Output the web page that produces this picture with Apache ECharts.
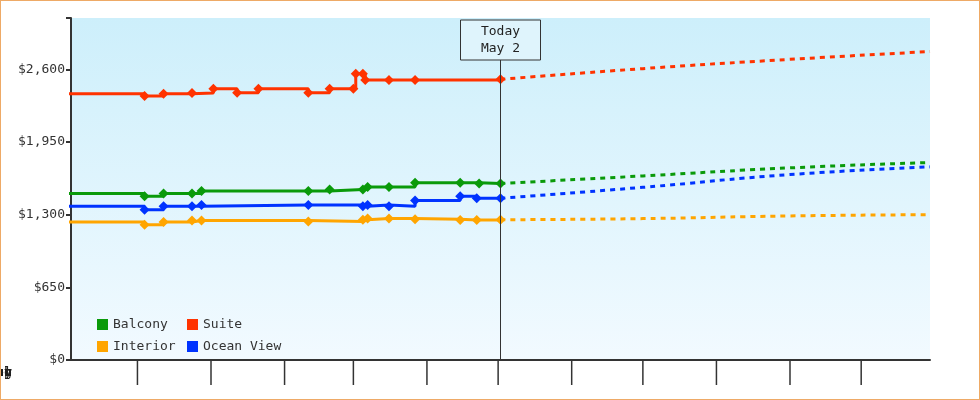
<!DOCTYPE html>
<html><head><meta charset="utf-8">
<script src="https://cdn.jsdelivr.net/npm/echarts@6/dist/echarts.min.js"></script>
<style>
html,body{margin:0;padding:0;background:#fff;}
#c{position:absolute;left:0;top:0;width:980px;height:400px;}
#b{position:absolute;left:0;top:0;width:978px;height:398px;border:1px solid #eeaa66;pointer-events:none;z-index:5;}
</style></head>
<body><div id="c"></div><div id="b"></div>
<script>
const months = ['Nov','Dec','Jan','Feb','Mar','Apr','May','Jun','Jul','Aug','Sep','Oct'];
const monthStarts = ['2023-11-01','2023-12-01','2024-01-01','2024-02-01','2024-03-01','2024-04-01','2024-05-01','2024-06-01','2024-07-01','2024-08-01','2024-09-01','2024-10-01','2024-11-01'];
const today = '2024-05-02';
const yTicks = [0, 650, 1300, 1950, 2600];

const suite = [['2023-11-02',2383],['2023-12-04',2362],['2023-12-12',2383],['2023-12-24',2390],['2024-01-02',2427],['2024-01-12',2392],['2024-01-21',2427],['2024-02-11',2392],['2024-02-20',2427],['2024-03-01',2427],['2024-03-02',2562],['2024-03-05',2562],['2024-03-06',2505],['2024-03-16',2505],['2024-03-27',2505],['2024-05-02',2511]];
const balcony = [['2023-11-02',1489],['2023-12-04',1465],['2023-12-12',1489],['2023-12-24',1489],['2023-12-28',1513],['2024-02-11',1513],['2024-02-20',1525],['2024-03-05',1525],['2024-03-07',1549],['2024-03-16',1549],['2024-03-27',1585],['2024-04-15',1585],['2024-04-23',1579],['2024-05-02',1579]];
const oceanView = [['2023-11-02',1375],['2023-12-04',1345],['2023-12-12',1375],['2023-12-24',1375],['2023-12-28',1387],['2024-02-11',1387],['2024-03-05',1375],['2024-03-07',1387],['2024-03-16',1375],['2024-03-27',1426],['2024-04-15',1465],['2024-04-22',1447],['2024-05-02',1447]];
const interior = [['2023-11-02',1234],['2023-12-04',1210],['2023-12-12',1234],['2023-12-24',1249],['2023-12-28',1249],['2024-02-11',1240],['2024-03-05',1255],['2024-03-07',1265],['2024-03-16',1265],['2024-03-27',1260],['2024-04-15',1253],['2024-04-22',1253],['2024-05-02',1255]];

const suiteProj = [['2024-05-02',2511],['2024-07-01',2607],['2024-09-01',2690],['2024-10-30',2760]];
const balconyProj = [['2024-05-02',1579],['2024-07-01',1647],['2024-09-01',1719],['2024-10-30',1767]];
const oceanProj = [['2024-05-02',1447],['2024-07-01',1545],['2024-09-01',1659],['2024-10-30',1728]];
const interiorProj = [['2024-05-02',1255],['2024-07-01',1265],['2024-09-01',1289],['2024-10-30',1300]];

const colors = {Balcony:'#0a9a0a', Suite:'#ff3300', Interior:'#ffa500', 'Ocean View':'#0033ff'};
const font = 'DejaVu Sans Mono';

function solid(name, data){
  return {name, type:'line', data, step:'end', symbol:'diamond', symbolSize:10, showSymbol:true,
    itemStyle:{color:colors[name]}, lineStyle:{color:colors[name], width:3}, z:3};
}
function dashed(name, data){
  return {name, type:'line', data, smooth:true, showSymbol:false,
    itemStyle:{color:colors[name]}, lineStyle:{color:colors[name], width:3, type:[5,5]}, z:2};
}

const chart = echarts.init(document.getElementById('c'));
chart.setOption({
  animation:false,
  textStyle:{fontFamily:font},
  grid:{left:71, right:50, top:18, bottom:40, show:true, borderWidth:0,
    backgroundColor:new echarts.graphic.LinearGradient(0,0,0,1,[{offset:0,color:'#cdeffb'},{offset:1,color:'#f2faff'}])},
  legend:[
    {data:['Balcony','Interior'], orient:'vertical', left:92, top:313, itemWidth:11, itemHeight:11, itemGap:9, icon:'rect',
     textStyle:{fontFamily:font, fontSize:13, color:'#333'}},
    {data:['Suite','Ocean View'], orient:'vertical', left:182, top:313, itemWidth:11, itemHeight:11, itemGap:9, icon:'rect',
     textStyle:{fontFamily:font, fontSize:13, color:'#333'}}
  ],
  xAxis:{type:'time', min:'2023-11-03', max:'2024-10-30',
    axisLine:{lineStyle:{color:'#333', width:2}}, axisTick:{show:false}, axisLabel:{show:false}, splitLine:{show:false}},
  yAxis:{type:'value', min:0, max:3060, interval:650,
    axisLine:{show:true, lineStyle:{color:'#333', width:2}},
    axisTick:{show:true, length:5, lineStyle:{color:'#333', width:2}},
    axisLabel:{fontFamily:font, fontSize:13, color:'#333', margin:6,
      formatter:v => yTicks.includes(v) ? '$' + v.toLocaleString('en-US') : ''},
    splitLine:{show:false}},
  series:[
    solid('Balcony', balcony), solid('Suite', suite), solid('Interior', interior), solid('Ocean View', oceanView),
    dashed('Balcony', balconyProj), dashed('Suite', suiteProj), dashed('Interior', interiorProj), dashed('Ocean View', oceanProj),
    {type:'custom', silent:true, clip:false, z:1,
     data: months.map((m,i)=>[monthStarts[i], monthStarts[i+1], m]),
     renderItem:(params, api)=>{
       const cs = params.coordSys;
       const x0 = Math.max(api.coord([api.value(0),0])[0], cs.x);
       const x1 = Math.min(api.coord([api.value(1),0])[0], cs.x + cs.width);
       const y = cs.y + cs.height;
       const ch = [
         {type:'text', style:{text:months[params.dataIndex], x:(x0+x1)/2, y:y+13, align:'center', verticalAlign:'middle',
           font:'13px "DejaVu Sans Mono"', fill:'#222'}},
         {type:'line', shape:{x1:x0, y1:y+25, x2:x1, y2:y+25}, style:{stroke:'#333', lineWidth:1.5}}
       ];
       if (params.dataIndex > 0) ch.push({type:'line', shape:{x1:x0, y1:y, x2:x0, y2:y+25}, style:{stroke:'#333', lineWidth:1.5}});
       return {type:'group', children:ch};
     }},
    {type:'custom', silent:true, clip:false, z:4,
     data:[[today, 0]],
     renderItem:(params, api)=>{
       const cs = params.coordSys;
       const p = api.coord([api.value(0),0]);
       const y = cs.y + cs.height;
       return {type:'group', children:[
         {type:'line', shape:{x1:p[0], y1:60, x2:p[0], y2:y}, style:{stroke:'#333', lineWidth:1}},
         {type:'rect', shape:{x:p[0]-40, y:20, width:80, height:40}, style:{fill:'#dff4fc', stroke:'#333', lineWidth:1}},
         {type:'text', style:{text:'Today\nMay 2', x:p[0], y:40, align:'center', verticalAlign:'middle', lineHeight:17,
           font:'13px "DejaVu Sans Mono"', fill:'#222'}}
       ]};
     }}
  ]
});
</script></body></html>
